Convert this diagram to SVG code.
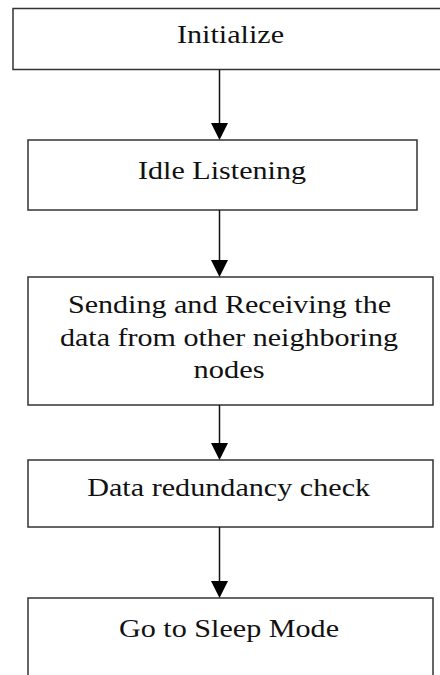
<svg xmlns="http://www.w3.org/2000/svg" width="440" height="675" viewBox="0 0 440 675">
<style>
.box{fill:#fff;stroke:#333;stroke-width:1.5}
.lbl{font-family:"Liberation Serif","Times New Roman",serif;font-size:26px;fill:#111;text-anchor:middle}
.edge{stroke:#111;stroke-width:1.5;fill:none}
</style>
<rect width="440" height="675" fill="#fff"/>
<g id="n1"><rect class="box" x="13" y="8.5" width="440" height="61"/><text class="lbl" x="230.5" y="43" textLength="107" lengthAdjust="spacingAndGlyphs">Initialize</text></g>
<g id="n2"><rect class="box" x="28" y="140" width="389" height="70"/><text class="lbl" x="222" y="179" textLength="168" lengthAdjust="spacingAndGlyphs">Idle Listening</text></g>
<g id="n3"><rect class="box" x="28" y="277" width="405" height="128"/>
<text class="lbl" x="229.5" y="313" textLength="323" lengthAdjust="spacingAndGlyphs">Sending and Receiving the</text>
<text class="lbl" x="229" y="346" textLength="338" lengthAdjust="spacingAndGlyphs">data from other neighboring</text>
<text class="lbl" x="229" y="378" textLength="71" lengthAdjust="spacingAndGlyphs">nodes</text></g>
<g id="n4"><rect class="box" x="28" y="460" width="405" height="67"/><text class="lbl" x="228.7" y="496" textLength="283" lengthAdjust="spacingAndGlyphs">Data redundancy check</text></g>
<g id="n5"><rect class="box" x="28" y="598" width="405" height="100"/><text class="lbl" x="229" y="637" textLength="220" lengthAdjust="spacingAndGlyphs">Go to Sleep Mode</text></g>
<g id="edges">
<line class="edge" x1="219.5" y1="70" x2="219.5" y2="124"/><path d="M211,123 L228,123 L219.5,140 Z"/>
<line class="edge" x1="219.5" y1="210" x2="219.5" y2="261"/><path d="M211,260 L228,260 L219.5,277 Z"/>
<line class="edge" x1="219.5" y1="405" x2="219.5" y2="444"/><path d="M211,443 L228,443 L219.5,460 Z"/>
<line class="edge" x1="219.5" y1="527" x2="219.5" y2="582"/><path d="M211,581 L228,581 L219.5,598 Z"/>
</g>
</svg>
